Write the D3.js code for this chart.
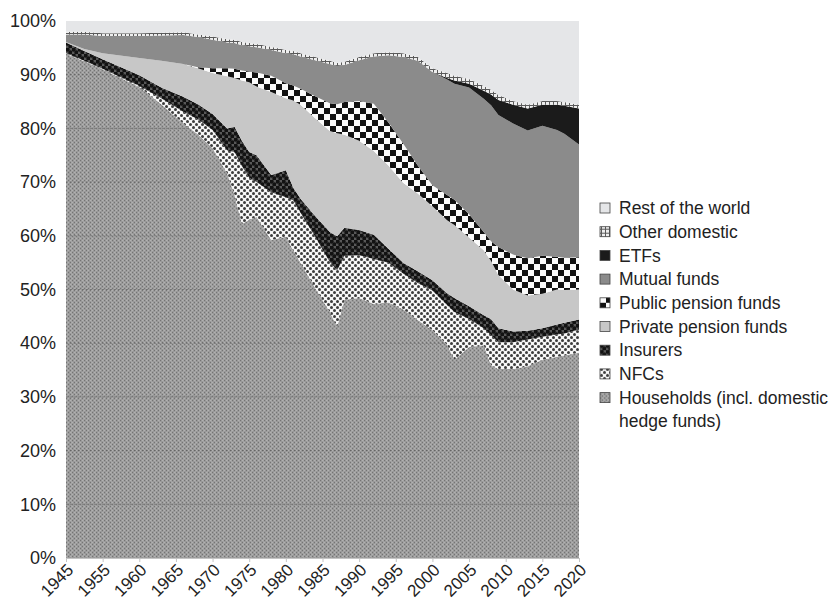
<!DOCTYPE html>
<html>
<head>
<meta charset="utf-8">
<script src="https://cdn.jsdelivr.net/npm/d3@7"></script>
<style>
  body { margin: 0; background: #fff; }
  svg { display: block; font-family: "Liberation Sans", Arial, Helvetica, sans-serif; }
</style>
</head>
<body>
<script>
// shares of US corporate equity by holder, in percent
var years = [1945, 1950, 1955, 1960, 1963, 1966, 1968, 1970, 1972, 1973, 1974, 1975, 1976, 1978, 1980, 1981, 1982, 1984, 1986, 1987, 1988, 1990, 1992, 1994, 1996, 1998, 2000, 2002, 2003, 2005, 2007, 2008, 2009, 2011, 2013, 2015, 2017, 2018, 2020];

var households     = [93.9, 92.5, 91.0, 87.7, 84.5, 80.9, 78.9, 76.3, 71.6, 67.6, 62.2, 63.0, 63.5, 59.2, 59.8, 57.3, 55.0, 50.3, 45.8, 43.0, 48.1, 48.4, 47.3, 47.6, 46.3, 44.3, 42.4, 39.7, 36.9, 39.3, 39.6, 35.9, 35.2, 35.2, 35.7, 36.9, 37.5, 37.7, 38.2];
var nfcs           = [0.1, 0.1, 0.1, 0.2, 1.1, 2.2, 2.8, 3.4, 4.3, 8.0, 10.8, 7.8, 6.5, 8.9, 7.4, 9.3, 9.3, 9.5, 9.3, 10.6, 8.2, 8.0, 8.4, 7.4, 6.7, 6.9, 7.4, 7.4, 8.9, 5.2, 3.2, 5.6, 5.0, 5.0, 5.0, 4.3, 4.1, 4.1, 4.3];
var insurers       = [2.0, 1.8, 1.8, 2.0, 2.0, 2.8, 2.8, 3.0, 4.1, 4.7, 4.7, 4.8, 5.0, 3.2, 5.0, 2.4, 2.6, 3.9, 5.6, 6.3, 5.2, 4.7, 4.5, 2.6, 2.0, 2.2, 1.9, 2.2, 2.6, 2.4, 2.4, 3.0, 2.6, 2.0, 1.6, 1.6, 1.9, 2.0, 1.9];
var privatePension = [0.1, 0.4, 1.1, 3.2, 5.0, 6.1, 6.7, 7.6, 9.7, 9.1, 11.2, 13.0, 12.8, 15.5, 13.4, 16.2, 17.5, 18.2, 18.8, 19.2, 17.3, 16.6, 15.6, 15.5, 14.9, 14.5, 13.8, 13.6, 13.6, 12.8, 12.1, 10.8, 9.9, 7.8, 6.6, 6.4, 6.5, 6.1, 5.6];
var publicPension  = [0, 0, 0, 0, 0, 0, 0.2, 0.9, 1.5, 1.7, 1.9, 2.0, 2.6, 3.0, 2.8, 2.8, 3.0, 4.1, 5.2, 5.4, 6.1, 7.4, 8.8, 8.0, 7.3, 5.2, 3.9, 4.7, 4.7, 4.3, 3.4, 3.7, 5.2, 6.5, 6.9, 7.1, 6.1, 6.0, 6.0];
var mutualFunds    = [1.4, 2.7, 3.2, 4.1, 4.7, 5.4, 5.6, 5.3, 4.8, 4.8, 4.7, 4.7, 4.7, 4.8, 5.6, 5.8, 6.0, 6.7, 7.3, 7.1, 6.9, 7.6, 8.8, 12.5, 16.1, 19.5, 21.1, 21.5, 21.6, 23.6, 24.8, 25.3, 24.6, 24.4, 23.8, 24.2, 23.6, 23.1, 21.0];
var etfs           = [0, 0, 0, 0, 0, 0, 0, 0, 0, 0, 0, 0, 0, 0, 0, 0, 0, 0, 0, 0, 0, 0, 0, 0, 0, 0, 0, 0.3, 0.6, 0.7, 1.5, 2.0, 2.8, 3.5, 4.1, 3.9, 4.7, 5.2, 6.7];
var otherDomestic  = [0.5, 0.5, 0.5, 0.5, 0.5, 0.5, 0.5, 0.6, 0.6, 0.6, 0.6, 0.6, 0.6, 0.6, 0.6, 0.6, 0.6, 0.6, 0.6, 0.6, 0.6, 0.6, 0.6, 0.6, 0.7, 0.7, 0.7, 0.9, 0.9, 0.9, 0.9, 0.9, 0.9, 0.7, 0.7, 0.7, 0.7, 0.7, 0.7];
var restOfWorld    = [2.0, 2.0, 2.3, 2.3, 2.2, 2.1, 2.5, 2.9, 3.4, 3.5, 3.9, 4.1, 4.3, 4.8, 5.4, 5.6, 6.0, 6.7, 7.4, 7.8, 7.6, 6.7, 6.0, 5.8, 6.0, 6.7, 8.8, 9.7, 10.2, 10.8, 12.1, 12.8, 13.8, 14.9, 15.6, 14.9, 14.9, 15.1, 15.6];

var xTicks = [1945, 1955, 1960, 1965, 1970, 1975, 1980, 1985, 1990, 1995, 2000, 2005, 2010, 2015, 2020];
var yTicks = [0, 10, 20, 30, 40, 50, 60, 70, 80, 90, 100];

// bottom to top
var keys = ["households", "nfcs", "insurers", "privatePension", "publicPension", "mutualFunds", "etfs", "otherDomestic", "restOfWorld"];
var labels = {
  households: "Households (incl. domestic|hedge funds)",
  nfcs: "NFCs",
  insurers: "Insurers",
  privatePension: "Private pension funds",
  publicPension: "Public pension funds",
  mutualFunds: "Mutual funds",
  etfs: "ETFs",
  otherDomestic: "Other domestic",
  restOfWorld: "Rest of the world"
};
var series = {households: households, nfcs: nfcs, insurers: insurers, privatePension: privatePension,
  publicPension: publicPension, mutualFunds: mutualFunds, etfs: etfs, otherDomestic: otherDomestic, restOfWorld: restOfWorld};

var rows = years.map(function(yr, i) {
  var r = {year: yr};
  keys.forEach(function(k) { r[k] = series[k][i]; });
  return r;
});

var width = 835, height = 602;
var plot = {left: 66, right: 579, top: 21, bottom: 558};

var svg = d3.select("body").append("svg")
  .attr("width", width)
  .attr("height", height);

var defs = svg.append("defs");

// ---- fill patterns (greyscale print look)
function pattern(id, w, h) {
  return defs.append("pattern")
    .attr("id", id)
    .attr("patternUnits", "userSpaceOnUse")
    .attr("width", w)
    .attr("height", h);
}

// households: fine mottled grey
var p = pattern("pHouse", 4, 4);
p.append("rect").attr("width", 4).attr("height", 4).attr("fill", "#999");
p.append("rect").attr("x", 0).attr("y", 0).attr("width", 1).attr("height", 1).attr("fill", "#747474");
p.append("rect").attr("x", 2).attr("y", 2).attr("width", 1).attr("height", 1).attr("fill", "#747474");
p.append("rect").attr("x", 2).attr("y", 0).attr("width", 1).attr("height", 1).attr("fill", "#b2b2b2");
p.append("rect").attr("x", 0).attr("y", 2).attr("width", 1).attr("height", 1).attr("fill", "#b2b2b2");
p.append("rect").attr("x", 3).attr("y", 0).attr("width", 1).attr("height", 4).attr("fill", "#a4a4a4");

// NFCs: dark dots on white, 45 degree halftone
p = pattern("pNfc", 6, 6);
p.append("rect").attr("width", 6).attr("height", 6).attr("fill", "#f7f7f7");
p.append("circle").attr("cx", 1.5).attr("cy", 1.5).attr("r", 1.5).attr("fill", "#3c3c3c");
p.append("circle").attr("cx", 4.5).attr("cy", 4.5).attr("r", 1.5).attr("fill", "#3c3c3c");

// insurers: black dots on dark grey
p = pattern("pIns", 6, 6);
p.append("rect").attr("width", 6).attr("height", 6).attr("fill", "#585858");
p.append("circle").attr("cx", 1.5).attr("cy", 1.5).attr("r", 2.2).attr("fill", "#121212");
p.append("circle").attr("cx", 4.5).attr("cy", 4.5).attr("r", 2.2).attr("fill", "#121212");

// public pension: checkerboard
p = pattern("pPub", 12, 12);
p.append("rect").attr("width", 12).attr("height", 12).attr("fill", "#fbfbfb");
p.append("rect").attr("x", 0).attr("y", 0).attr("width", 6).attr("height", 6).attr("fill", "#111");
p.append("rect").attr("x", 6).attr("y", 6).attr("width", 6).attr("height", 6).attr("fill", "#111");

// other domestic: plaid
p = pattern("pOther", 4, 4);
p.append("rect").attr("width", 4).attr("height", 4).attr("fill", "#eeeeee");
p.append("rect").attr("x", 1).attr("y", 0).attr("width", 1).attr("height", 4).attr("fill", "#5a5a5a");
p.append("rect").attr("x", 0).attr("y", 1).attr("width", 4).attr("height", 1).attr("fill", "#5a5a5a");

var fills = {
  households: "url(#pHouse)",
  nfcs: "url(#pNfc)",
  insurers: "url(#pIns)",
  privatePension: "#c7c7c7",
  publicPension: "url(#pPub)",
  mutualFunds: "#8b8b8b",
  etfs: "#1b1b1b",
  otherDomestic: "url(#pOther)",
  restOfWorld: "#e5e6e8"
};

// ---- scales (1945 -> 1955 takes one tick slot like the others)
var x = d3.scaleLinear()
  .domain([1945, 1955, 2020])
  .range([plot.left, plot.left + (plot.right - plot.left) / 14, plot.right]);

var y = d3.scaleLinear()
  .domain([0, 100])
  .range([plot.bottom, plot.top]);

var stack = d3.stack().keys(keys);
var layers = stack(rows);

var area = d3.area()
  .x(function(d) { return x(d.data.year); })
  .y0(function(d) { return y(d[0]); })
  .y1(function(d) { return y(d[1]); });

defs.append("clipPath").attr("id", "plotClip")
  .append("rect")
  .attr("x", plot.left).attr("y", plot.top)
  .attr("width", plot.right - plot.left).attr("height", plot.bottom - plot.top);

defs.append("clipPath").attr("id", "houseClip")
  .append("path")
  .attr("d", area(layers[0]));

var g = svg.append("g").attr("clip-path", "url(#plotClip)");

g.selectAll(".layer")
  .data(layers)
  .enter()
  .append("path")
    .attr("class", "layer")
    .attr("d", area)
    .attr("fill", function(d) { return fills[d.key]; });

// faint dashed rows showing through the households texture
g.append("g")
  .attr("clip-path", "url(#houseClip)")
  .selectAll("line")
  .data(yTicks.slice(1, 10))
  .enter()
  .append("line")
    .attr("x1", plot.left).attr("x2", plot.right)
    .attr("y1", function(d) { return y(d); })
    .attr("y2", function(d) { return y(d); })
    .attr("stroke", "#555")
    .attr("stroke-opacity", 0.55)
    .attr("stroke-dasharray", "2,2");

// ---- axes
var yAxis = svg.append("g")
  .attr("transform", "translate(" + plot.left + ",0)")
  .call(d3.axisLeft(y).tickValues(yTicks).tickSize(0).tickPadding(10)
    .tickFormat(function(d) { return d + "%"; }));
yAxis.select(".domain").remove();
yAxis.selectAll("text")
  .style("font-size", "18px")
  .attr("fill", "#222");

var xAxis = svg.append("g")
  .attr("transform", "translate(0," + plot.bottom + ")")
  .call(d3.axisBottom(x).tickValues(xTicks).tickSize(4).tickFormat(d3.format("d")));
xAxis.select(".domain").attr("stroke", "#c4c4c4");
xAxis.selectAll("line").attr("stroke", "#c4c4c4");
xAxis.selectAll("text")
  .style("font-size", "17px")
  .attr("fill", "#222")
  .attr("text-anchor", "end")
  .attr("x", 0).attr("y", 0).attr("dy", 0)
  .attr("transform", "translate(8,13) rotate(-45)");

// ---- legend, top entry first
var legendKeys = keys.slice().reverse();
var legend = svg.append("g")
  .selectAll("g")
  .data(legendKeys)
  .enter()
  .append("g")
    .attr("transform", function(d, i) { return "translate(600," + (208 + i * 23.7) + ")"; });

legend.append("rect")
  .attr("x", 0).attr("y", -5)
  .attr("width", 10).attr("height", 10)
  .attr("fill", function(d) { return fills[d]; })
  .attr("stroke", "#444")
  .attr("stroke-width", 0.8);

legend.append("text")
  .attr("x", 19)
  .style("font-size", "17.5px")
  .attr("fill", "#222")
  .selectAll("tspan")
  .data(function(d) { return labels[d].split("|"); })
  .enter()
  .append("tspan")
    .attr("x", 19)
    .attr("dy", function(d, i) { return i == 0 ? "0.35em" : "23.7px"; })
    .text(function(d) { return d; });
</script>
</body>
</html>
